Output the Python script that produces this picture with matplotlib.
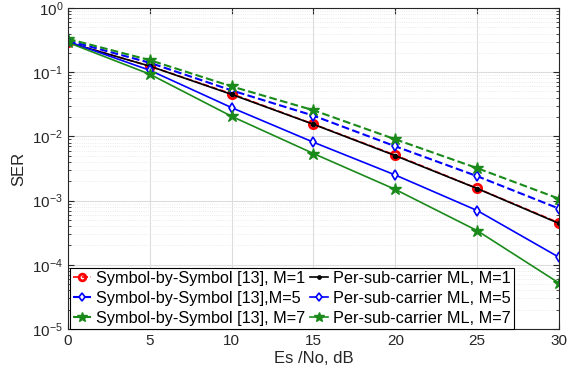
import numpy as np
import matplotlib.pyplot as plt
from matplotlib.ticker import LogLocator, NullFormatter

plt.rcParams['font.family'] = ['Liberation Sans', 'DejaVu Sans']

snr = [0, 5, 10, 15, 20, 25, 30]

# Symbol-by-Symbol [13]
sbs_m1 = [0.29, 0.124, 0.046, 0.0155, 0.0051, 0.00155, 0.00045]
sbs_m5 = [0.31, 0.14, 0.052, 0.021, 0.0070, 0.0024, 0.00075]
sbs_m7 = [0.33, 0.154, 0.060, 0.0255, 0.0090, 0.0032, 0.00107]

# Per-sub-carrier ML
ml_m1 = [0.29, 0.124, 0.045, 0.0154, 0.0050, 0.00154, 0.00044]
ml_m5 = [0.30, 0.107, 0.028, 0.0081, 0.0025, 0.00070, 0.000131]
ml_m7 = [0.29, 0.093, 0.0205, 0.0054, 0.00149, 0.00034, 0.000052]

fig = plt.figure(figsize=(5.79, 3.79), dpi=100)
ax = fig.add_axes([0.1174, 0.132, 0.848, 0.847])

green = '#1a8a1a'
ax.plot(snr, sbs_m1, ls='--', marker='o', color='red', mfc='none', mew=2, ms=6,
        lw=1.2, label='Symbol-by-Symbol [13], M=1')
ax.plot(snr, sbs_m5, ls='--', marker='d', color='blue', mfc='white', mew=1.2,
        ms=5.5, lw=1.5, label='Symbol-by-Symbol [13],M=5')
ax.plot(snr, sbs_m7, ls='--', marker='*', color=green, ms=9, lw=1.5,
        label='Symbol-by-Symbol [13], M=7')
ax.plot(snr, ml_m1, ls='-', marker='.', color='black', ms=6, lw=1.2,
        label='Per-sub-carrier ML, M=1')
ax.plot(snr, ml_m5, ls='-', marker='d', color='blue', mfc='white', mew=1.2,
        ms=5.5, lw=1.2, label='Per-sub-carrier ML, M=5')
ax.plot(snr, ml_m7, ls='-', marker='*', color=green, ms=9, lw=1.2,
        label='Per-sub-carrier ML, M=7')

ax.set_yscale('log')
ax.set_xlim(0, 30)
ax.set_ylim(1e-5, 1)
ax.set_xticks(snr)
ax.yaxis.set_major_locator(LogLocator(base=10, numticks=10))
ax.yaxis.set_minor_locator(LogLocator(base=10, subs=np.arange(2, 10), numticks=10))
ax.yaxis.set_minor_formatter(NullFormatter())

ax.grid(True, which='major', color='#dcdcdc', lw=0.8)
ax.grid(True, which='minor', axis='y', color='#e4e4e4', lw=0.6, ls=':')
ax.set_axisbelow(True)

ax.tick_params(which='both', direction='in', top=True, right=True,
               labelsize=11, colors='#262626')
ax.tick_params(which='major', length=4)
ax.tick_params(which='minor', length=2)
for s in ax.spines.values():
    s.set_color('#262626')
    s.set_linewidth(0.8)

ax.set_xlabel('Es /No, dB', fontsize=12, color='#262626', labelpad=2)
ax.set_ylabel('SER', fontsize=12, color='#262626', labelpad=4)

leg = ax.legend(loc='lower left', ncol=2, fontsize=11.7, handlelength=1.1,
                handletextpad=0.3, columnspacing=0.3, labelspacing=0.3,
                borderaxespad=0.0, borderpad=0.2, fancybox=False,
                framealpha=1, edgecolor='black', markerscale=0.8,
                bbox_to_anchor=(0.004, 0.0))
leg.get_frame().set_linewidth(0.8)

fig.savefig('out.png', dpi=100)
